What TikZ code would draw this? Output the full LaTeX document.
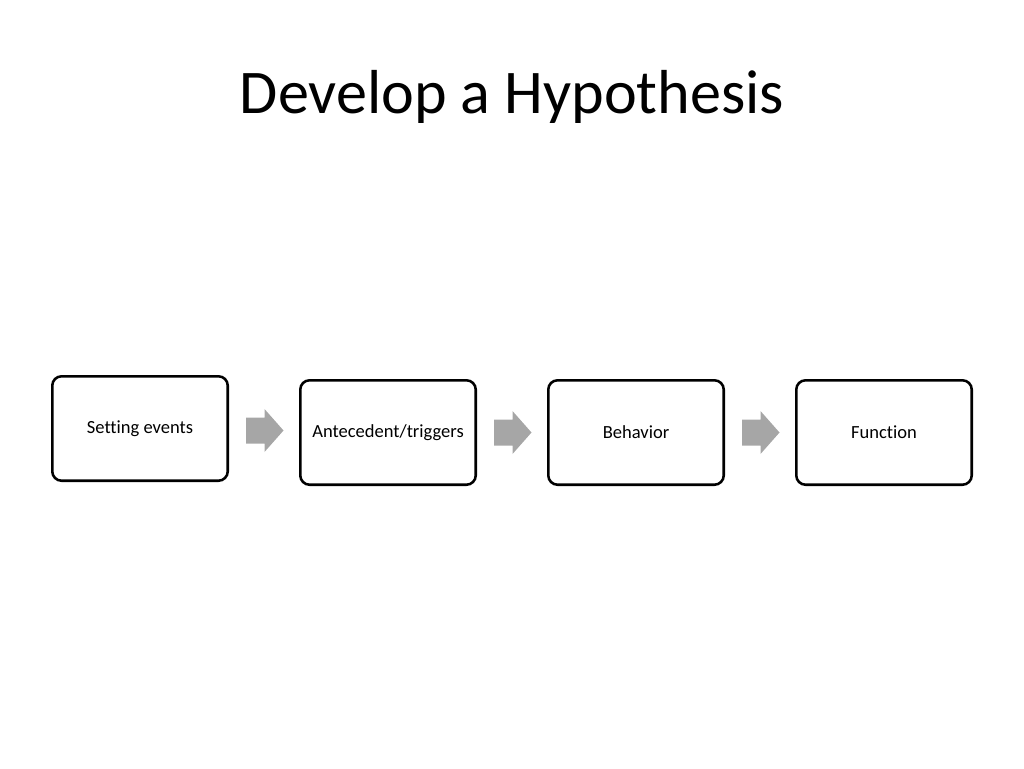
\documentclass[tikz,border=0pt]{standalone}
\usepackage{fontspec}
\setmainfont[Ligatures=NoCommon]{Carlito}
\begin{document}
\begin{tikzpicture}[x=0.75pt,y=-0.75pt,
  stepbox/.style={draw=black, line width=1.9pt, rounded corners=7pt, minimum width=133.5pt-1.9pt, minimum height=80.25pt-1.9pt, inner sep=0pt, font=\fontsize{13.9pt}{16pt}\selectfont},
  flowarrow/.style={fill=black!35, draw=none}]
\useasboundingbox (0,0) rectangle (1024,768);
\node[font=\fontsize{46.6pt}{52pt}\selectfont] (title) at (512,97) {Develop a Hypothesis};
\node[stepbox] (b1) at (140,428.5) {Setting events};
\node[stepbox] (b2) at (388,432.5) {Antecedent/triggers};
\node[stepbox] (b3) at (636,432.5) {Behavior};
\node[stepbox] (b4) at (884,432.5) {Function};
\foreach \n/\cx/\cy in {a1/246/430.5, a2/494/432.5, a3/742/432.5}{
  \coordinate (\n) at (\cx,\cy);
  \fill[flowarrow] (\n) ++(0,-13) -- ++(18.5,0) -- ++(0,-8.5) -- ++(19,21.5) -- ++(-19,21.5) -- ++(0,-8.5) -- ++(-18.5,0) -- cycle;
}
\end{tikzpicture}
\end{document}
